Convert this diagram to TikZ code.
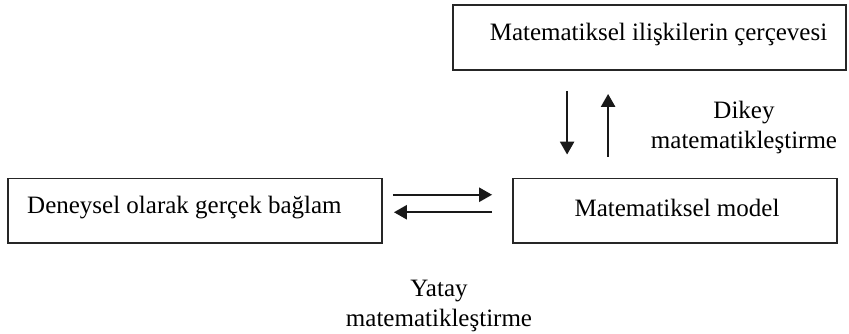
\documentclass[tikz,border=0pt]{standalone}
\usepackage{fontspec}
\setmainfont{Liberation Serif}
\usetikzlibrary{arrows.meta,calc}
\begin{document}
\begin{tikzpicture}[x=1pt,y=-1pt,
  box/.style={draw=black!85, line width=1.8pt, rectangle, inner sep=0pt},
  txt/.style={inner sep=0pt, align=center, font=\fontsize{25}{30}\selectfont},
  arr/.style={line width=2.4pt, draw=black!90, -{Triangle[length=13pt,width=14pt]}}]
\useasboundingbox (0,0) rectangle (849,334);
% boxes
\node[box, minimum width=393, minimum height=65] (T) at (649.5,37.5) {};
\node[box, minimum width=324, minimum height=64.5] (M) at (675,210.75) {};
\node[box, minimum width=374, minimum height=64.5] (L) at (195,210.75) {};
% texts
\node[txt] (Tt) at (658.5,34) {Matematiksel ilişkilerin çerçevesi};
\node[txt] (Mt) at (677,208) {Matematiksel model};
\node[txt, anchor=west] (Lt) at (27,208) {Deneysel olarak gerçek bağlam};
\node[txt] (D) at (744,127) {Dikey\\matematikleştirme};
\node[txt] (Y) at (439,306) {Yatay\\matematikleştirme};
% horizontal arrows
\draw[arr] ([shift={(10,-16)}]L.east) -- ([shift={(-20,-16)}]M.west);
\draw[arr] ([shift={(-20,1.5)}]M.west) -- ([shift={(11,1.5)}]L.east);
% vertical arrows
\draw[arr] ($(T.south west)+(115,20)$) -- ($(M.north west)+(55,-23)$);
\draw[arr] ($(M.north west)+(96,-21)$) -- ($(T.south west)+(156,23)$);
\end{tikzpicture}
\end{document}
